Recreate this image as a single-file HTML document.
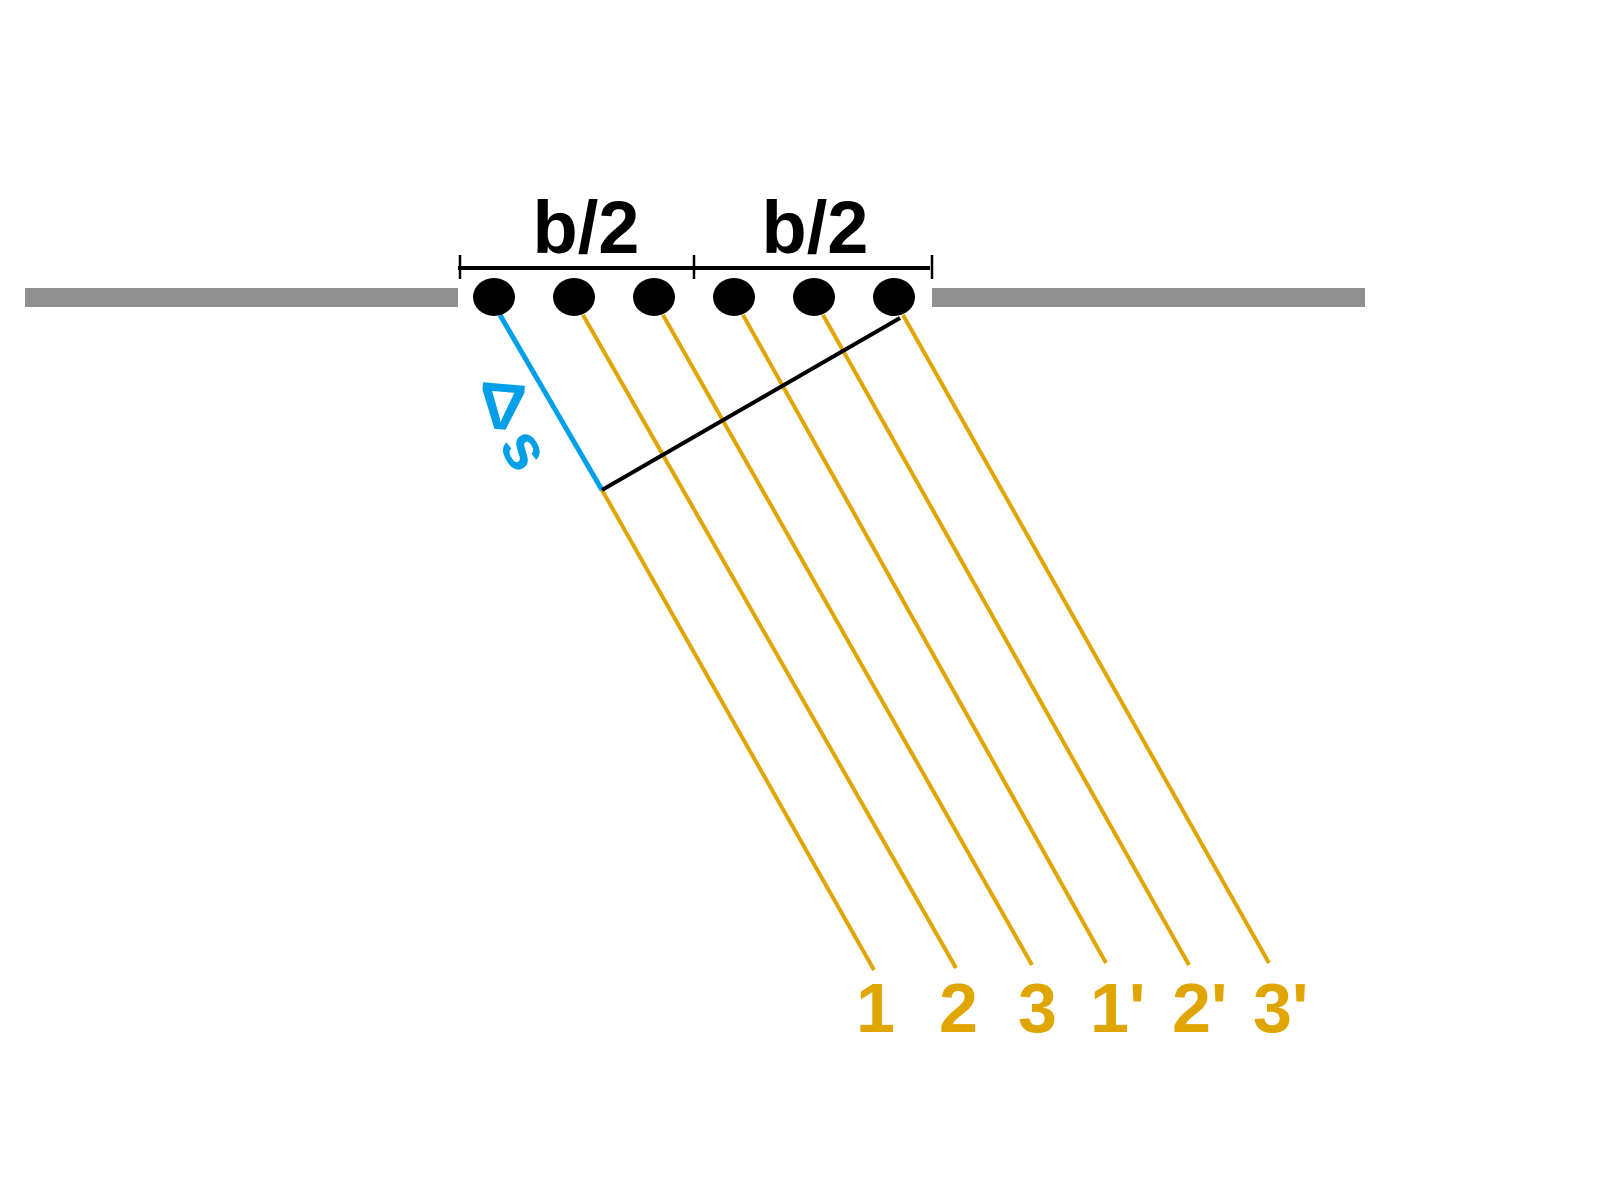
<!DOCTYPE html>
<html><head><meta charset="utf-8"><style>
html,body{margin:0;padding:0;background:#fff}
svg{display:block}
text{font-family:"Liberation Sans",sans-serif;font-weight:bold}
</style></head><body>
<svg width="1600" height="1200" viewBox="0 0 1600 1200">
<rect x="25" y="288" width="433" height="19" fill="#8f8f8f"/>
<rect x="932" y="288" width="433" height="19" fill="#8f8f8f"/>
<g stroke="#000" stroke-width="4">
<line x1="458" y1="268" x2="930" y2="268"/>
<line x1="460" y1="255" x2="460" y2="279" stroke-width="2.5"/>
<line x1="694" y1="255" x2="694" y2="279" stroke-width="2.5"/>
<line x1="932" y1="255" x2="932" y2="279" stroke-width="2.5"/>
</g>
<text x="586" y="253" font-size="74" text-anchor="middle">b/2</text>
<text x="815" y="253" font-size="74" text-anchor="middle">b/2</text>
<g stroke="#e0a500" stroke-width="4" fill="none">
<line x1="602" y1="490" x2="874" y2="970"/>
<line x1="583" y1="315" x2="956" y2="968"/>
<line x1="663" y1="315" x2="1032" y2="965"/>
<line x1="743" y1="315" x2="1106" y2="963"/>
<line x1="823" y1="315" x2="1189" y2="965"/>
<line x1="903" y1="315" x2="1269" y2="963"/>
</g>
<line x1="500" y1="315" x2="602" y2="490" stroke="#00a0e8" stroke-width="5"/>
<line x1="602" y1="490" x2="900" y2="318" stroke="#000" stroke-width="4"/>
<g fill="#000">
<ellipse cx="494" cy="297" rx="21" ry="19"/>
<ellipse cx="574" cy="297" rx="21" ry="19"/>
<ellipse cx="654" cy="297" rx="21" ry="19"/>
<ellipse cx="734" cy="297" rx="21" ry="19"/>
<ellipse cx="814" cy="297" rx="21" ry="19"/>
<ellipse cx="894" cy="297" rx="21" ry="19"/>
</g>
<text transform="translate(502,407) rotate(185)" font-size="66" fill="#00a0e8" text-anchor="middle" dominant-baseline="central">Δ</text>
<text transform="translate(526,449) rotate(60)" font-size="64" fill="#00a0e8" text-anchor="middle" dominant-baseline="central">s</text>
<g fill="#e0a500" font-size="70">
<text x="856" y="1032">1</text>
<text x="939" y="1032">2</text>
<text x="1018" y="1032">3</text>
<text x="1090" y="1032">1'</text>
<text x="1172" y="1032">2'</text>
<text x="1253" y="1032">3'</text>
</g>
</svg>
</body></html>
